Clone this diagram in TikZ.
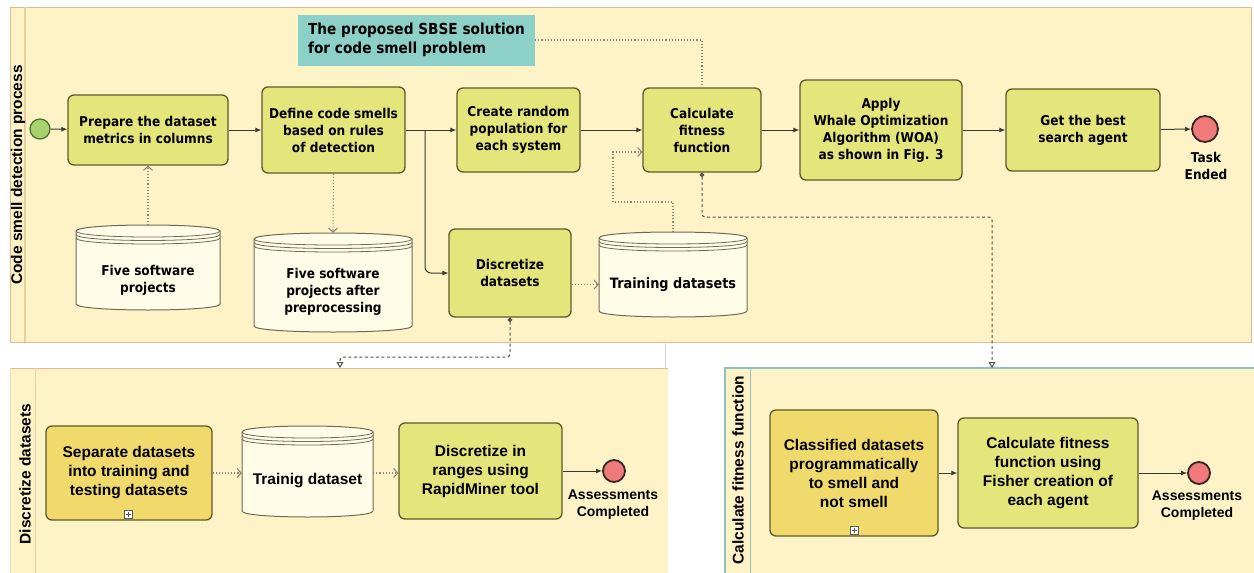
\documentclass[tikz,border=0pt]{standalone}
\usepackage{fontspec}
\usetikzlibrary{arrows.meta}
\newfontfamily\topf[FakeStretch=0.9]{DejaVu Sans}
\newfontfamily\botf{Liberation Sans}
\newfontfamily\lanef{Liberation Sans}
\definecolor{poolbg}{HTML}{FEF3C7}
\definecolor{poolbd}{HTML}{E6B890}
\definecolor{striplc}{HTML}{E8CFA0}
\definecolor{tealbd}{HTML}{8CC4C4}
\definecolor{taskfill}{HTML}{E4E57A}
\definecolor{goldfill}{HTML}{F1DA6C}
\definecolor{taskbd}{HTML}{5C5A2C}
\definecolor{storefill}{HTML}{FFFCE8}
\definecolor{storebd}{HTML}{6E6A55}
\definecolor{tealbox}{HTML}{8CD0C8}
\definecolor{startc}{HTML}{A8D26E}
\definecolor{startbd}{HTML}{4E6A2E}
\definecolor{endc}{HTML}{F07A7A}
\definecolor{endbd}{HTML}{3A2424}
\definecolor{flowc}{HTML}{3A3A30}
\definecolor{dotc}{HTML}{8A8878}
\definecolor{msgc}{HTML}{55554A}
\tikzset{
  x=1pt, y=-1pt,
  topfont/.style={font=\topf\bfseries\fontsize{13.5}{17}\selectfont},
  botfont/.style={font=\botf\bfseries\fontsize{15.5}{19}\selectfont},
  taskbox/.style={draw=taskbd, line width=1.3pt, rounded corners=6pt, inner sep=0pt, align=center},
  storestyle/.style={fill=storefill, draw=storebd, line width=1pt},
  storeline/.style={draw=storebd, line width=0.8pt},
  flow/.style={draw=flowc, line width=1pt, -{Latex[length=6pt,width=5pt]}},
  assoc/.style={draw=dotc, line width=1.1pt, dotted, -{Straight Barb[length=4pt,width=9pt]}},
  assocplain/.style={draw=dotc, line width=1.1pt, dotted},
  msg/.style={draw=msgc, line width=1pt, dash pattern=on 3pt off 2.5pt, rounded corners=3pt,
     {Circle[length=4.5pt]}-{Triangle[open,length=6pt,width=7pt]}},
  startev/.style={circle, draw=startbd, fill=startc, line width=1.2pt, minimum size=20pt, inner sep=0pt},
  endev/.style={circle, draw=endbd, fill=endc, line width=1.8pt, inner sep=0pt},
  lanelabel/.style={font=\lanef\bfseries\fontsize{15.5}{18}\selectfont, rotate=90, inner sep=0pt},
  plusbox/.style={draw=black!65, fill=white, line width=0.5pt, minimum size=8pt, inner sep=0pt,
     path picture={\draw[black!65, line width=0.5pt]
       ([yshift=-1.5pt]path picture bounding box.north) -- ([yshift=1.5pt]path picture bounding box.south)
       ([xshift=1.5pt]path picture bounding box.west) -- ([xshift=-1.5pt]path picture bounding box.east);}}
}
\newcommand\tbox[7]{\node[taskbox,#6,minimum width={(#4-#2)*1pt},minimum height={(#5-#3)*1pt}] (#1) at ({(#2+#4)/2},{(#3+#5)/2}) {#7};}
\newcommand\dstore[8]{%
  \path[storestyle] (#2,#3+6) .. controls (#2,#3-2) and (#4,#3-2) .. (#4,#3+6) -- (#4,#5-6)
     .. controls (#4,#5+2) and (#2,#5+2) .. (#2,#5-6) -- cycle;
  \draw[storeline] (#2,#3+6) .. controls (#2,#3+14) and (#4,#3+14) .. (#4,#3+6);
  \draw[storeline] (#2,#3+9.5) .. controls (#2,#3+17.5) and (#4,#3+17.5) .. (#4,#3+9.5);
  \draw[storeline] (#2,#3+13) .. controls (#2,#3+21) and (#4,#3+21) .. (#4,#3+13);
  \node[inner sep=0pt,minimum width={(#4-#2)*1pt},minimum height={(#5-#3)*1pt}] (#1) at ({(#2+#4)/2},{(#3+#5)/2}) {};
  \node[#8, align=center, inner sep=0pt] (#1-t) at ([yshift=-#7pt]#1.center) {#6};}
\begin{document}
\begin{tikzpicture}
\useasboundingbox[fill=white] (0,0) rectangle (1254,573);
% ---------- pools ----------
\begin{scope}
\clip (0,0) rectangle (1254,573);
\path[fill=poolbg, draw=poolbd, line width=1pt] (10,7) rectangle (1251,342);
\draw[striplc, line width=1.2pt] (25,7) -- (25,342);
\path[fill=poolbg] (10,368) rectangle (668,580);
\draw[poolbd, line width=1pt] (10,368) -- (668,368);
\draw[striplc!70, line width=0.8pt] (10,368) -- (10,580);
\draw[striplc, line width=1pt] (35,368) -- (35,580);
\draw[black!18, line width=0.6pt] (665,342) -- (665,368);
\path[fill=poolbg] (725,368) rectangle (1260,580);
\draw[tealbd, line width=1.2pt] (725,580) -- (725,368) -- (1260,368);
\draw[tealbd, line width=1pt] (750,368) -- (750,580);
\end{scope}
\node[lanelabel] (lane1) at (18,175) {Code smell detection process};
\node[lanelabel] (lane2) at (25,474) {Discretize datasets};
\node[lanelabel] (lane3) at (738,470) {Calculate fitness function};
% ---------- top pool ----------
\node[fill=tealbox, minimum width=237pt, minimum height=51pt, inner sep=0pt, align=left,
      font=\topf\bfseries\fontsize{15.2}{19}\selectfont] (tb) at (416.5,40) {The proposed SBSE solution\\for code smell problem};
\node[startev] (start) at (40,129) {};
\tbox{t1}{68}{95}{228}{165}{fill=taskfill,topfont}{Prepare the dataset\\metrics in columns}
\tbox{t2}{262}{87}{405}{173}{fill=taskfill,topfont}{Define code smells\\based on rules\\of detection}
\tbox{t3}{457}{88}{580}{172}{fill=taskfill,topfont}{Create random\\population for\\each system}
\tbox{t4}{643}{88}{761}{172}{fill=taskfill,topfont}{Calculate\\fitness\\function}
\tbox{t5}{800}{80}{962}{180}{fill=taskfill,topfont}{Apply\\Whale Optimization\\Algorithm (WOA)\\as shown in Fig. 3}
\tbox{t6}{1006}{89}{1160}{171}{fill=taskfill,topfont}{Get the best\\search agent}
\node[endev, minimum size=26pt] (end1) at (1205,129) {};
\node[topfont, align=center, inner sep=0pt] (end1-l) at (1206,166) {Task\\Ended};
\tbox{disc}{449}{229}{571}{317}{fill=taskfill,topfont}{Discretize\\datasets}
\dstore{c1}{76}{225}{220}{310}{Five software\\projects}{12.5}{topfont}
\dstore{c2}{254}{233}{412}{332}{Five software\\projects after\\preprocessing}{9}{topfont}
\dstore{c3}{599}{232}{747}{317}{Training datasets}{10}{font=\topf\bfseries\fontsize{14.3}{17}\selectfont}
% top connectors
\draw[flow] (start) -- (t1);
\draw[flow] (t1) -- (t2);
\draw[flow] (t2) -- (t3);
\coordinate (br) at (425,130);
\draw[flow, rounded corners=6pt] (br) |- (disc.west);
\draw[flow] (t3) -- (t4);
\draw[flow] (t4) -- (t5);
\draw[flow] (t5) -- (t6);
\draw[flow] (t6) -- (end1);
\draw[assoc] (c1.north) -- (t1.south);
\draw[assoc] (t2.south) -- (c2.north);
\draw[assoc] (disc.east |- c3-t) -- (c3.west |- c3-t);
\coordinate (a1) at (613,202);
\draw[assoc] (c3.north) |- (a1) |- ([yshift=-22pt]t4.west);
\draw[assocplain] (tb.east) -| (t4.north);
\coordinate (m1) at (992,217);
\coordinate (p3in) at (992,368);
\draw[msg] (t4.south) |- (m1) -- (p3in);
\coordinate (m2) at (340,357);
\coordinate (p2in) at (340,368);
\draw[msg] (disc.south) |- (m2) -- (p2in);
% ---------- bottom-left pool ----------
\tbox{sep}{46}{426}{212}{520}{fill=goldfill,botfont}{Separate datasets\\into training and\\testing datasets}
\node[plusbox] (sep-m) at (128,514) {};
\dstore{c4}{242}{426}{373}{517}{Trainig dataset}{9}{botfont}
\coordinate (r1) at (0,473);
\tbox{rm}{399}{423}{562}{519}{fill=taskfill,botfont}{Discretize in\\ranges using\\RapidMiner tool}
\node[endev, minimum size=22pt] (end2) at (614,471) {};
\node[font=\botf\bfseries\fontsize{14}{17}\selectfont, align=center, inner sep=0pt] (end2-l) at (613,505) {Assessments\\Completed};
\draw[assoc] (sep.east |- r1) -- (c4.west |- r1);
\draw[assoc] (c4.east |- r1) -- (rm.west |- r1);
\draw[flow] (rm.east |- end2) -- (end2);
% ---------- bottom-right pool ----------
\tbox{cls}{770}{410}{938}{536}{fill=goldfill,botfont}{Classified datasets\\programmatically\\to smell and\\not smell}
\node[plusbox] (cls-m) at (854,530) {};
\tbox{fis}{958}{418}{1138}{528}{fill=taskfill,botfont}{Calculate fitness\\function using\\Fisher creation of\\each agent}
\node[endev, minimum size=22pt] (end3) at (1199,473) {};
\node[font=\botf\bfseries\fontsize{14}{17}\selectfont, align=center, inner sep=0pt] (end3-l) at (1197,506) {Assessments\\Completed};
\draw[flow] (cls.east |- fis) -- (fis.west);
\draw[flow] (fis) -- (end3);
\end{tikzpicture}
\end{document}
